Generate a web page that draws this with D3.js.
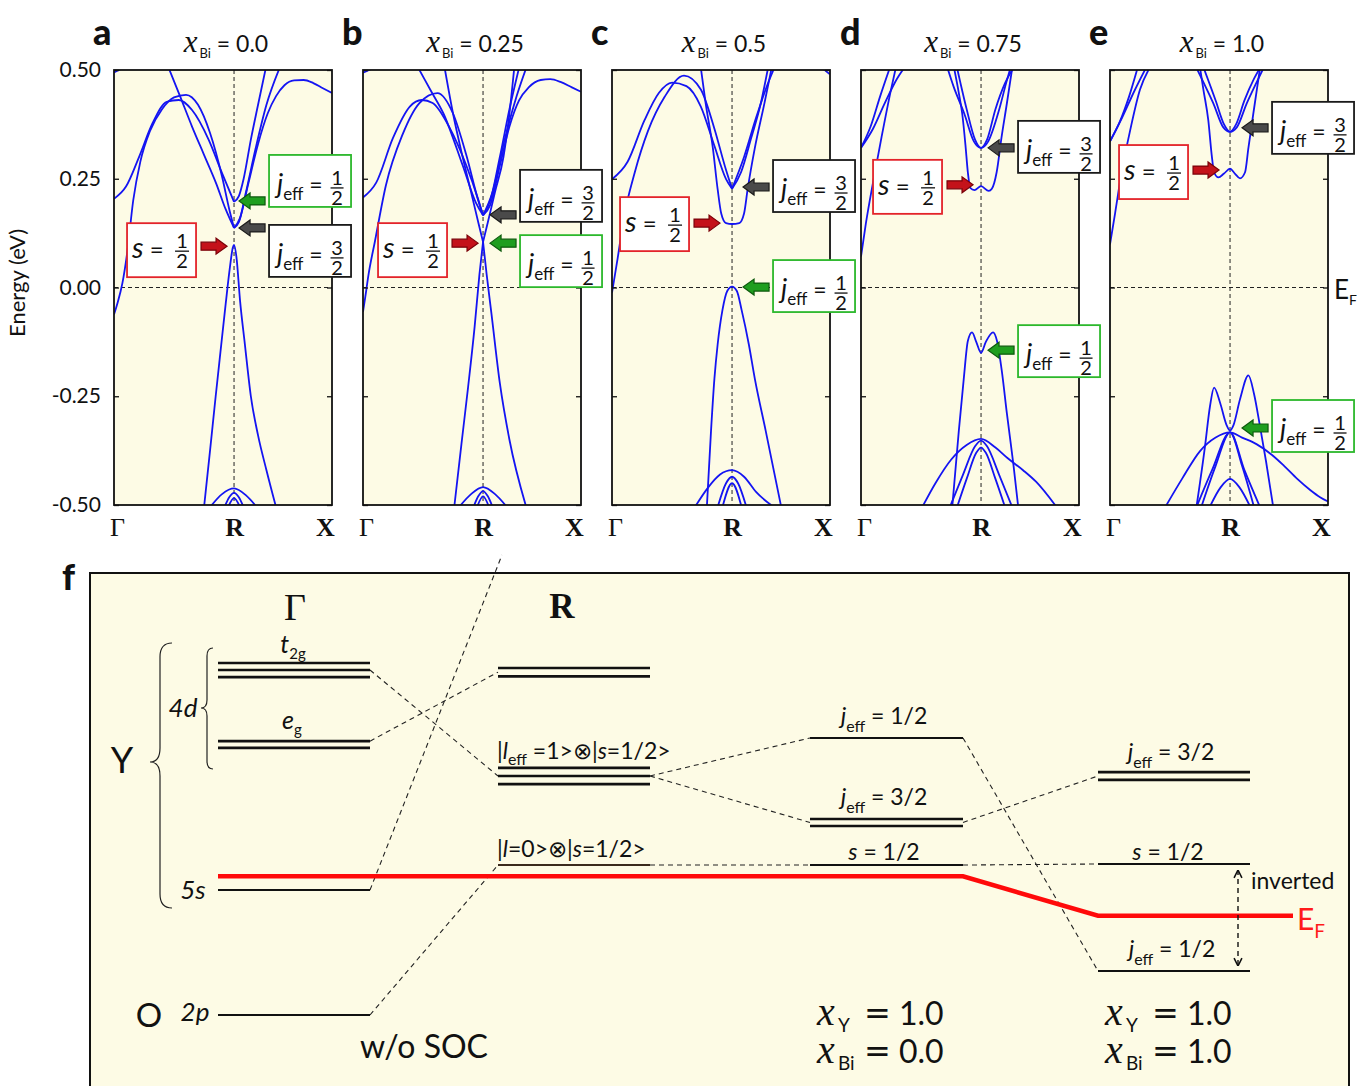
<!DOCTYPE html>
<html><head><meta charset="utf-8">
<script src="https://cdn.jsdelivr.net/npm/d3@7"></script>
<style>body{margin:0;background:#fff}svg{display:block}text{white-space:pre}</style>
</head><body>
<svg id="chart" width="1357" height="1086"></svg>
<script>
// ---------------- DATA ----------------
const compositions = ["0.0", "0.25", "0.5", "0.75", "1.0"];
const panelLetters = ["a", "b", "c", "d", "e"];
const energyTicks = [0.5, 0.25, 0, -0.25, -0.5];
const energyTickLabels = ["0.50", "0.25", "0.00", "-0.25", "-0.50"];
const kPoints = [0, 1, 1.816];          // Γ, R, X (path length, Γ–R = 1)
const kLabels = ["Γ", "R", "X"];

// band curves [k, E(eV)]
const bandsA = [
  [[0,0.494],[0.04,0.5],[0.09,0.507]],
  [[0,0.204],[0.1,0.232],[0.21,0.301],[0.32,0.377],[0.44,0.427],[0.54,0.431],[0.65,0.408],[0.79,0.339],[0.9,0.263],[1,0.197]],
  [[0,-0.062],[0.03,-0.035],[0.07,0.01],[0.11,0.08],[0.16,0.2],[0.22,0.29],[0.3,0.36],[0.4,0.41],[0.5,0.437],[0.6,0.443],[0.7,0.42],[0.8,0.355],[0.9,0.255],[0.96,0.18],[1,0.137]],
  [[0.455,0.505],[0.55,0.44],[0.65,0.37],[0.75,0.305],[0.85,0.24],[0.93,0.18],[1,0.137]],
  [[1,0.197],[1.04,0.21],[1.08,0.25],[1.14,0.34],[1.2,0.42],[1.265,0.505]],
  [[1,0.137],[1.04,0.15],[1.1,0.22],[1.18,0.32],[1.27,0.42],[1.38,0.505]],
  [[1,0.137],[1.05,0.16],[1.12,0.24],[1.2,0.33],[1.28,0.4],[1.35,0.44],[1.42,0.465],[1.5,0.476],[1.58,0.477],[1.66,0.47],[1.74,0.458],[1.816,0.447]],
  [[0.75,-0.505],[0.8,-0.375],[0.847,-0.25],[0.89,-0.14],[0.931,-0.036],[0.965,0.045],[0.99,0.092],[1,0.098],[1.02,0.07],[1.05,-0.03],[1.09,-0.13],[1.14,-0.25],[1.2,-0.34],[1.27,-0.42],[1.35,-0.505]],
  [[0.8,-0.505],[0.9,-0.475],[1,-0.462],[1.1,-0.478],[1.19,-0.505]],
  [[0.92,-0.505],[0.96,-0.482],[1,-0.472],[1.04,-0.482],[1.08,-0.505]],
  [[0.95,-0.505],[1,-0.484],[1.05,-0.505]]
];
const bandsB = [
  [[0,0.494],[0.05,0.5],[0.1,0.507]],
  [[0,0.207],[0.11,0.241],[0.25,0.344],[0.39,0.416],[0.49,0.431],[0.58,0.424],[0.72,0.368],[0.86,0.281],[0.96,0.202],[1,0.166]],
  [[0,-0.056],[0.02,-0.02],[0.045,0.028],[0.1,0.107],[0.19,0.234],[0.33,0.352],[0.47,0.424],[0.62,0.447],[0.75,0.4],[0.86,0.305],[0.96,0.2],[1,0.166]],
  [[0.46,0.505],[0.57,0.45],[0.67,0.4],[0.83,0.281],[0.94,0.195],[1,0.166]],
  [[0.68,0.505],[0.75,0.4],[0.83,0.3],[0.9,0.22],[0.96,0.15],[1,0.105]],
  [[1,0.105],[1.04,0.15],[1.1,0.22],[1.17,0.3],[1.22,0.4],[1.26,0.505]],
  [[1,0.166],[1.06,0.2],[1.14,0.3],[1.22,0.41],[1.3,0.505]],
  [[1,0.166],[1.06,0.19],[1.14,0.28],[1.22,0.37],[1.3,0.43],[1.38,0.46],[1.48,0.477],[1.56,0.479],[1.65,0.472],[1.74,0.46],[1.816,0.45]],
  [[1,0.166],[1.08,0.22],[1.18,0.34],[1.28,0.44],[1.36,0.505]],
  [[0.76,-0.505],[0.82,-0.36],[0.875,-0.23],[0.93,-0.09],[0.97,0.03],[1,0.105]],
  [[1,0.105],[1.03,0.03],[1.07,-0.06],[1.14,-0.22],[1.22,-0.35],[1.36,-0.505]],
  [[0.8,-0.505],[0.9,-0.475],[1,-0.459],[1.1,-0.475],[1.2,-0.505]],
  [[0.92,-0.505],[0.96,-0.48],[1,-0.468],[1.04,-0.48],[1.08,-0.505]],
  [[0.95,-0.505],[1,-0.48],[1.05,-0.505]]
];
const bandsC = [
  [[0,0.249],[0.13,0.289],[0.27,0.384],[0.39,0.447],[0.5,0.471],[0.62,0.463],[0.74,0.416],[0.85,0.328],[0.95,0.249],[1,0.227]],
  [[0,-0.012],[0.047,0.067],[0.1,0.162],[0.19,0.265],[0.3,0.36],[0.44,0.439],[0.6,0.487],[0.74,0.455],[0.85,0.368],[0.95,0.27],[1,0.227]],
  [[0.74,0.505],[0.78,0.424],[0.84,0.321],[0.88,0.226],[0.91,0.17],[0.95,0.148],[1,0.146],[1.06,0.148],[1.1,0.17],[1.13,0.226],[1.19,0.321],[1.27,0.424],[1.33,0.505]],
  [[1,0.227],[1.075,0.265],[1.16,0.344],[1.24,0.424],[1.3,0.505]],
  [[1,0.227],[1.1,0.3],[1.2,0.39],[1.3,0.47],[1.36,0.51]],
  [[1.73,0.507],[1.78,0.498],[1.816,0.49]],
  [[0.79,-0.505],[0.825,-0.329],[0.853,-0.21],[0.88,-0.131],[0.92,-0.052],[0.96,-0.008],[1,0.002],[1.04,-0.008],[1.08,-0.052],[1.14,-0.131],[1.19,-0.21],[1.28,-0.329],[1.41,-0.505]],
  [[0.69,-0.505],[0.8,-0.46],[0.9,-0.43],[1,-0.42],[1.1,-0.435],[1.2,-0.47],[1.35,-0.505]],
  [[0.88,-0.505],[0.95,-0.45],[1,-0.435],[1.05,-0.45],[1.12,-0.505]],
  [[0.92,-0.505],[1,-0.45],[1.08,-0.505]]
];
const bandsD = [
  [[0,0.321],[0.1,0.365],[0.2,0.425],[0.3,0.48],[0.36,0.505]],
  [[0,0.321],[0.08,0.37],[0.16,0.44],[0.24,0.505]],
  [[0,0.071],[0.04,0.146],[0.1,0.241],[0.17,0.344],[0.25,0.455],[0.29,0.505]],
  [[0.72,0.505],[0.77,0.463],[0.86,0.4],[0.94,0.336],[1,0.321],[1.06,0.336],[1.15,0.408],[1.21,0.471],[1.245,0.505]],
  [[0.8,0.505],[0.88,0.41],[0.95,0.34],[1,0.321],[1.05,0.34],[1.12,0.41],[1.2,0.47],[1.27,0.505]],
  [[0.775,0.505],[0.815,0.447],[0.843,0.4],[0.87,0.328],[0.89,0.265],[0.91,0.229],[0.945,0.224],[1,0.233],[1.064,0.222],[1.09,0.227],[1.13,0.265],[1.17,0.344],[1.215,0.423],[1.26,0.505]],
  [[0.76,-0.505],[0.815,-0.329],[0.856,-0.21],[0.89,-0.123],[0.925,-0.103],[0.96,-0.125],[1,-0.15],[1.04,-0.125],[1.1,-0.103],[1.133,-0.123],[1.174,-0.194],[1.215,-0.289],[1.27,-0.408],[1.31,-0.505]],
  [[0.51,-0.505],[0.62,-0.45],[0.75,-0.396],[0.88,-0.362],[1,-0.348],[1.12,-0.368],[1.22,-0.392],[1.35,-0.42],[1.46,-0.447],[1.63,-0.505]],
  [[0.74,-0.505],[0.85,-0.43],[0.95,-0.365],[1,-0.352],[1.05,-0.365],[1.15,-0.43],[1.26,-0.505]],
  [[0.8,-0.505],[0.88,-0.44],[0.96,-0.38],[1,-0.368],[1.04,-0.38],[1.12,-0.44],[1.2,-0.505]]
];
const bandsE = [
  [[0,0.336],[0.08,0.38],[0.16,0.44],[0.23,0.505]],
  [[0,0.336],[0.1,0.39],[0.2,0.45],[0.3,0.505]],
  [[0,0.099],[0.042,0.17],[0.097,0.265],[0.167,0.36],[0.25,0.455],[0.33,0.505]],
  [[0.72,0.505],[0.78,0.471],[0.86,0.424],[0.944,0.368],[1,0.358],[1.056,0.368],[1.14,0.424],[1.22,0.471],[1.28,0.505]],
  [[0.78,0.505],[0.88,0.43],[0.95,0.375],[1,0.358],[1.05,0.375],[1.12,0.43],[1.2,0.48],[1.25,0.505]],
  [[0.75,0.505],[0.778,0.455],[0.819,0.384],[0.847,0.305],[0.867,0.265],[0.903,0.253],[0.95,0.262],[1,0.273],[1.04,0.262],[1.083,0.251],[1.125,0.265],[1.153,0.321],[1.194,0.4],[1.25,0.505]],
  [[0.72,-0.505],[0.79,-0.368],[0.833,-0.273],[0.867,-0.23],[0.917,-0.265],[0.972,-0.317],[1,-0.329],[1.028,-0.317],[1.083,-0.257],[1.153,-0.202],[1.2,-0.245],[1.25,-0.32],[1.3,-0.4],[1.36,-0.505]],
  [[0.46,-0.505],[0.6,-0.44],[0.75,-0.376],[0.88,-0.345],[1,-0.333],[1.1,-0.345],[1.22,-0.36],[1.35,-0.385],[1.45,-0.41],[1.56,-0.44],[1.67,-0.466],[1.75,-0.482],[1.816,-0.492]],
  [[0.72,-0.505],[0.85,-0.42],[1,-0.333],[1.12,-0.42],[1.25,-0.505]],
  [[0.76,-0.505],[0.88,-0.41],[1,-0.333],[1.1,-0.41],[1.2,-0.505]],
  [[0.83,-0.505],[0.92,-0.46],[1,-0.44],[1.08,-0.46],[1.17,-0.505]]
];
// energies (eV) at R marked by the annotation arrows
const sArrowE   = [0.095, 0.102, 0.148, 0.236, 0.270];
const j32ArrowE = [0.137, 0.167, 0.231, 0.321, 0.367];
const j12ArrowE = [0.199, 0.102, 0.001, -0.144, -0.323];

// schematic (panel f) level energies, arbitrary units
const t2gLevels = [10.0, 9.80, 9.60];
const egLevels = [7.78, 7.59];
const y5sLevels = [3.55];
const o2pLevels = [0];
const rUpperLevels = [9.86, 9.62];
const rLeffLevels = [7.02, 6.79, 6.56];
const rL0Levels = [4.26];
const socYj12 = [7.87], socYj32 = [5.57, 5.37], socYs = [4.26];
const socBij32 = [6.90, 6.68], socBis = [4.29], socBij12 = [1.25];
const fermiMid = 3.94, fermiBi = 2.82;
const compY = ["1.0", "1.0"], compBi = ["0.0", "1.0"];

// ---------------- LAYOUT ----------------
const svg = d3.select("#chart");
const cream = "#fdfbe5", blue = "#1414f2";
const PW = 218, PT = 70, PH = 435;
const panelX = i => 114 + i * 249;
const x = d3.scaleLinear().domain([0, 1.816]).range([0, PW]);
const y = d3.scaleLinear().domain([-0.5, 0.5]).range([PT + PH, PT]);
const line = d3.line().x(d => x(d[0])).y(d => y(d[1])).curve(d3.curveMonotoneX);
const bandSets = [bandsA, bandsB, bandsC, bandsD, bandsE];
const SANS = "Lato, 'Open Sans', sans-serif", SERIF = "'Liberation Serif', 'DejaVu Serif', serif";

function rich(parent, px, py, parts, anchor, size, fill) {
  const t = parent.append("text").attr("x", px).attr("y", py).attr("text-anchor", anchor || "start")
    .attr("font-family", SANS).attr("font-size", size || 22).attr("fill", fill || "#111");
  let shift = 0;
  parts.forEach(p => {
    const s = t.append("tspan").text(p.t);
    if (p.x !== undefined) { s.attr("x", p.x); }
    const tgt = p.dy || 0;
    s.attr("dy", (p.ddy || 0) + tgt - shift); shift = tgt;
    if (p.it) s.attr("font-style", "italic");
    if (p.size) s.attr("font-size", p.size);
    if (p.fam) s.attr("font-family", p.fam);
    if (p.w) s.attr("font-weight", p.w);
    if (p.dx) s.attr("dx", p.dx);
  });
  return t;
}
function frac(g, cx, lineY, num, den, size, lw) {
  // numerator and denominator as one text element
  const t = g.append("text").attr("text-anchor", "middle").attr("font-family", SANS)
    .attr("font-size", size).attr("fill", "#111");
  t.append("tspan").attr("x", cx).attr("y", lineY - 3).text(num);
  t.append("tspan").attr("x", cx).attr("y", lineY + 17).text(den);
  g.append("line").attr("x1", cx - lw / 2).attr("x2", cx + lw / 2).attr("y1", lineY).attr("y2", lineY)
    .attr("stroke", "#111").attr("stroke-width", 1.3);
}
function blockArrow(g, tipX, yy, dir, fill, stroke) {
  const L = 26, hl = 11, hh = 8, sh = 4, d = dir;
  const pts = [[tipX, yy], [tipX + d * hl, yy - hh], [tipX + d * hl, yy - sh], [tipX + d * L, yy - sh],
    [tipX + d * L, yy + sh], [tipX + d * hl, yy + sh], [tipX + d * hl, yy + hh]];
  g.append("path").attr("d", "M" + pts.join("L") + "Z").attr("fill", fill).attr("stroke", stroke).attr("stroke-width", 1.2);
}
function jBox(g, bx, cy, color, num, den) {
  g.append("rect").attr("x", bx).attr("y", cy - 26).attr("width", 82).attr("height", 52)
    .attr("fill", "#fff").attr("stroke", color).attr("stroke-width", 1.8);
  rich(g, bx + 8, cy + 12, [{t: "j", it: true, size: 27}, {t: "eff", size: 17, dy: 7}, {t: " =", size: 23, dy: 0}], "start", 23);
  frac(g, bx + 68, cy + 7, num, den, 20, 13);
}
function sBox(g, bRight, cy) {
  const bx = bRight - 69;
  g.append("rect").attr("x", bx).attr("y", cy - 27).attr("width", 69).attr("height", 54)
    .attr("fill", "#fff").attr("stroke", "#e3232a").attr("stroke-width", 1.8);
  rich(g, bx + 5, cy + 8, [{t: "s", it: true, size: 29}, {t: " =", size: 24}], "start", 24);
  frac(g, bx + 55, cy + 1, "1", "2", 20, 14);
}

// ---------------- PANELS a–e ----------------
const boxShift = [[4, -20, 23], [7, 18, -19], [1, -1, -1], [2, 1, -1], [2, -2, 0]]; // s, j1/2, j3/2 (px)
const jGap = [35, 37, 41, 37, 42], sGap = [38, 36, 43, 39, 42];

bandSets.forEach((bands, i) => {
  const g = svg.append("g").attr("transform", `translate(${panelX(i)},0)`);
  g.append("rect").attr("x", 0).attr("y", PT).attr("width", PW).attr("height", PH).attr("fill", cream);
  const cid = "clip" + i;
  g.append("clipPath").attr("id", cid).append("rect").attr("x", 0).attr("y", PT).attr("width", PW).attr("height", PH);
  const bg = g.append("g").attr("clip-path", `url(#${cid})`);
  bg.append("line").attr("x1", x(kPoints[1])).attr("x2", x(kPoints[1])).attr("y1", PT).attr("y2", PT + PH)
    .attr("stroke", "#222").attr("stroke-width", 1).attr("stroke-dasharray", "4,3");
  bg.append("line").attr("x1", 0).attr("x2", PW).attr("y1", y(0)).attr("y2", y(0))
    .attr("stroke", "#222").attr("stroke-width", 1).attr("stroke-dasharray", "4,3");
  bg.selectAll("path.band").data(bands).join("path").attr("class", "band").attr("d", line)
    .attr("fill", "none").attr("stroke", blue).attr("stroke-width", 1.8);

  // axes
  const left = d3.axisLeft(y).tickValues(energyTicks).tickSizeInner(-5).tickSizeOuter(0).tickPadding(13)
    .tickFormat((d, j) => i === 0 ? energyTickLabels[j] : "");
  const lg = g.append("g").call(left);
  const right = d3.axisRight(y).tickValues(energyTicks).tickSizeInner(-5).tickSizeOuter(0).tickFormat("");
  const rg = g.append("g").attr("transform", `translate(${PW},0)`).call(right);
  [lg, rg].forEach(a => { a.select(".domain").remove(); a.selectAll("line").attr("stroke", "#111").attr("stroke-width", 1.3); });
  lg.selectAll("text").attr("font-family", SANS).attr("font-size", 21).attr("fill", "#111");
  const bottom = d3.axisBottom(x).tickValues(kPoints).tickSize(0).tickPadding(13).tickFormat((d, j) => kLabels[j]);
  const bx = g.append("g").attr("transform", `translate(0,${PT + PH})`).call(bottom);
  bx.select(".domain").remove();
  bx.selectAll("text").attr("font-family", SERIF).attr("font-size", 26).attr("fill", "#111")
    .attr("font-weight", (d, j) => j === 0 ? "normal" : "bold").attr("dx", (d, j) => j === 2 ? -7 : (j === 0 ? 3 : 0));

  g.append("rect").attr("x", 0).attr("y", PT).attr("width", PW).attr("height", PH)
    .attr("fill", "none").attr("stroke", "#111").attr("stroke-width", 1.8);

  // titles
  g.append("text").attr("x", -21).attr("y", 45).attr("font-family", SANS).attr("font-weight", 900)
    .attr("font-size", 36).attr("fill", "#111").text(panelLetters[i]);
  rich(g, PW / 2 + 3, 52, [{t: "x", it: true, fam: SERIF, size: 31}, {t: "Bi", size: 13, dy: 6, dx: 2},
    {t: " = " + compositions[i], size: 23, dy: 0}], "middle", 23);

  // annotations
  const R = x(kPoints[1]);
  const [dsS, dsJ12, dsJ32] = boxShift[i];
  const jx = R + jGap[i];
  jBox(g, jx, y(j12ArrowE[i]) + dsJ12, "#2cb82c", "1", "2");
  jBox(g, jx, y(j32ArrowE[i]) + dsJ32, "#1a1a1a", "3", "2");
  sBox(g, R - sGap[i], y(sArrowE[i]) + dsS);
  blockArrow(g, jx - 30, y(j12ArrowE[i]), 1, "#1f9e1f", "#0d5a0d");
  blockArrow(g, jx - 30, y(j32ArrowE[i]), 1, "#4a4a4a", "#1a1a1a");
  blockArrow(g, R - sGap[i] + 31, y(sArrowE[i]), -1, "#c4121a", "#7a0008");
});

// axis title + E_F
svg.append("text").attr("transform", "translate(25,283) rotate(-90)").attr("text-anchor", "middle")
  .attr("font-family", SANS).attr("font-size", 22).attr("fill", "#111").text("Energy (eV)");
rich(svg, panelX(4) + PW + 6, y(0) + 11, [{t: "E", size: 26}, {t: "F", size: 14, dy: 6}], "start", 26);

// ---------------- PANEL f ----------------
const f = svg.append("g");
f.append("rect").attr("x", 90).attr("y", 573).attr("width", 1259).attr("height", 600)
  .attr("fill", cream).attr("stroke", "#111").attr("stroke-width", 2);
f.append("text").attr("x", 62).attr("y", 590).attr("font-family", SANS).attr("font-weight", 900)
  .attr("font-size", 36).attr("fill", "#111").text("f");
const yS = d3.scaleLinear().domain([0, 10]).range([1015, 663]);
const cols = [[218, 370], [498, 650], [810, 963], [1098, 1250]];

function levels(col, arr, w, color) {
  f.selectAll(null).data(arr).join("line")
    .attr("x1", cols[col][0]).attr("x2", cols[col][1]).attr("y1", d => yS(d)).attr("y2", d => yS(d))
    .attr("stroke", color || "#111").attr("stroke-width", w);
}
function dashed(x1, e1, x2, e2) {
  f.append("line").attr("x1", x1).attr("y1", yS(e1)).attr("x2", x2).attr("y2", yS(e2))
    .attr("stroke", "#222").attr("stroke-width", 1.1).attr("stroke-dasharray", "5,4");
}
// connectors
dashed(cols[0][1], t2gLevels[1], cols[1][0], rLeffLevels[1]);
dashed(cols[0][1], egLevels[0], cols[1][0], (rUpperLevels[0] + rUpperLevels[1]) / 2);
dashed(cols[0][1], y5sLevels[0], 502, 13.07);
dashed(cols[0][1], o2pLevels[0], cols[1][0], rL0Levels[0]);
dashed(cols[1][1], rLeffLevels[1], cols[2][0], socYj12[0]);
dashed(cols[1][1], rLeffLevels[1], cols[2][0], (socYj32[0] + socYj32[1]) / 2);
dashed(cols[1][1], rL0Levels[0], cols[2][0], socYs[0]);
dashed(cols[2][1], socYj12[0], cols[3][0], socBij12[0]);
dashed(cols[2][1], (socYj32[0] + socYj32[1]) / 2, cols[3][0], (socBij32[0] + socBij32[1]) / 2);
dashed(cols[2][1], socYs[0], cols[3][0], socBis[0]);

// Fermi level (red)
const fermiPts = [[cols[0][0], fermiMid], [cols[2][1], fermiMid], [cols[3][0], fermiBi], [1293, fermiBi]];
f.append("path").attr("d", d3.line().x(d => d[0]).y(d => yS(d[1]))(fermiPts))
  .attr("fill", "none").attr("stroke", "#ff0a0a").attr("stroke-width", 4.5);

levels(0, t2gLevels, 2.6); levels(0, egLevels, 2.6); levels(0, y5sLevels, 2); levels(0, o2pLevels, 2);
levels(1, rUpperLevels, 2.6); levels(1, rLeffLevels, 2.6); levels(1, rL0Levels, 2, "#3b2a1c");
levels(2, socYj12, 2); levels(2, socYj32, 2.6); levels(2, socYs, 2);
levels(3, socBij32, 2.6); levels(3, socBis, 2); levels(3, socBij12, 2);

// braces
function brace(xr, xv, xt, y0, ym, y1, r) {
  const p = `M${xr},${y0} Q${xv},${y0} ${xv},${y0 + r} L${xv},${ym - r} Q${xv},${ym} ${xt},${ym}` +
    ` Q${xv},${ym} ${xv},${ym + r} L${xv},${y1 - r} Q${xv},${y1} ${xr},${y1}`;
  f.append("path").attr("d", p).attr("fill", "none").attr("stroke", "#222").attr("stroke-width", 1.2);
}
brace(172, 160, 150, 643, 762, 908, 14);
brace(213, 207, 201, 648, 708, 769, 8);

// labels
f.append("text").attr("x", 295).attr("y", 620).attr("text-anchor", "middle").attr("font-family", SERIF)
  .attr("font-size", 38).attr("fill", "#111").text("Γ");
f.append("text").attr("x", 562).attr("y", 618).attr("text-anchor", "middle").attr("font-family", SERIF)
  .attr("font-weight", "bold").attr("font-size", 35).attr("fill", "#111").text("R");
rich(f, 293, 653, [{t: "t", it: true, size: 25}, {t: "2g", size: 15, dy: 6}], "middle", 25);
rich(f, 292, 729, [{t: "e", it: true, size: 25}, {t: "g", size: 15, dy: 6}], "middle", 25);
rich(f, 183, 717, [{t: "4d", it: true}], "middle", 26);
rich(f, 122, 773, [{t: "Y"}], "middle", 36);
rich(f, 193, 899, [{t: "5s", it: true}], "middle", 26);
rich(f, 149, 1027, [{t: "O"}], "middle", 33);
rich(f, 195, 1021, [{t: "2p", it: true}], "middle", 26);
rich(f, 424, 1058, [{t: "w/o SOC"}], "middle", 32);
rich(f, 497, 759, [{t: "|"}, {t: "l", it: true}, {t: "eff", size: 16, dy: 6}, {t: " =1>⊗|", dy: 0}, {t: "s", it: true}, {t: "=1/2>"}], "start", 23);
rich(f, 497, 857, [{t: "|"}, {t: "l", it: true}, {t: "=0>⊗|"}, {t: "s", it: true}, {t: "=1/2>"}], "start", 23);
function jLabel(cx, by, val) {
  rich(f, cx, by, [{t: "j", it: true, size: 24}, {t: "eff", size: 16, dy: 8}, {t: " = " + val, dy: 0}], "middle", 23);
}
jLabel(884, 724, "1/2");
jLabel(884, 805, "3/2");
rich(f, 884, 860, [{t: "s", it: true}, {t: " = 1/2"}], "middle", 23);
jLabel(1171, 760, "3/2");
rich(f, 1168, 860, [{t: "s", it: true}, {t: " = 1/2"}], "middle", 23);
jLabel(1172, 957, "1/2");
rich(f, 1251, 889, [{t: "inverted"}], "start", 23);
rich(f, 1297, 930, [{t: "E", size: 30}, {t: "F", size: 19, dy: 8}], "start", 30, "#ff1a1a");

// inverted double arrow
const defs = svg.append("defs");
["aUp", "aDn"].forEach((id, k) => {
  defs.append("marker").attr("id", id).attr("viewBox", "0 0 10 10").attr("refX", 5).attr("refY", k ? 10 : 0)
    .attr("markerWidth", 7).attr("markerHeight", 7).attr("orient", "0")
    .append("path").attr("d", k ? "M1,2 L5,10 L9,2" : "M1,8 L5,0 L9,8").attr("fill", "none").attr("stroke", "#111").attr("stroke-width", 1.6);
});
f.append("line").attr("x1", 1238).attr("x2", 1238).attr("y1", yS(socBis[0]) + 6).attr("y2", yS(socBij12[0]) - 5)
  .attr("stroke", "#111").attr("stroke-width", 1.4).attr("stroke-dasharray", "5,4")
  .attr("marker-start", "url(#aUp)").attr("marker-end", "url(#aDn)");

// composition labels (two lines in one text element per column)
function compLabel(x0, by, yVal, biVal) {
  const t = f.append("text").attr("font-family", SANS).attr("font-size", 32).attr("fill", "#111");
  [[by, "Y", yVal], [by + 38, "Bi", biVal]].forEach(([yy, sub, val]) => {
    t.append("tspan").attr("x", x0).attr("y", yy).attr("font-family", SERIF).attr("font-style", "italic")
      .attr("font-size", 40).text("x");
    t.append("tspan").attr("x", x0 + 21).attr("y", yy + 7).attr("font-size", 19).text(sub);
    t.append("tspan").attr("x", x0 + 47).attr("y", yy - 1).attr("font-family", "'DejaVu Sans', sans-serif").text("=");
    t.append("tspan").attr("x", x0 + 82).attr("y", yy).text(val);
  });
}
compLabel(817, 1025, compY[0], compBi[0]);
compLabel(1105, 1025, compY[1], compBi[1]);
</script>
</body></html>
